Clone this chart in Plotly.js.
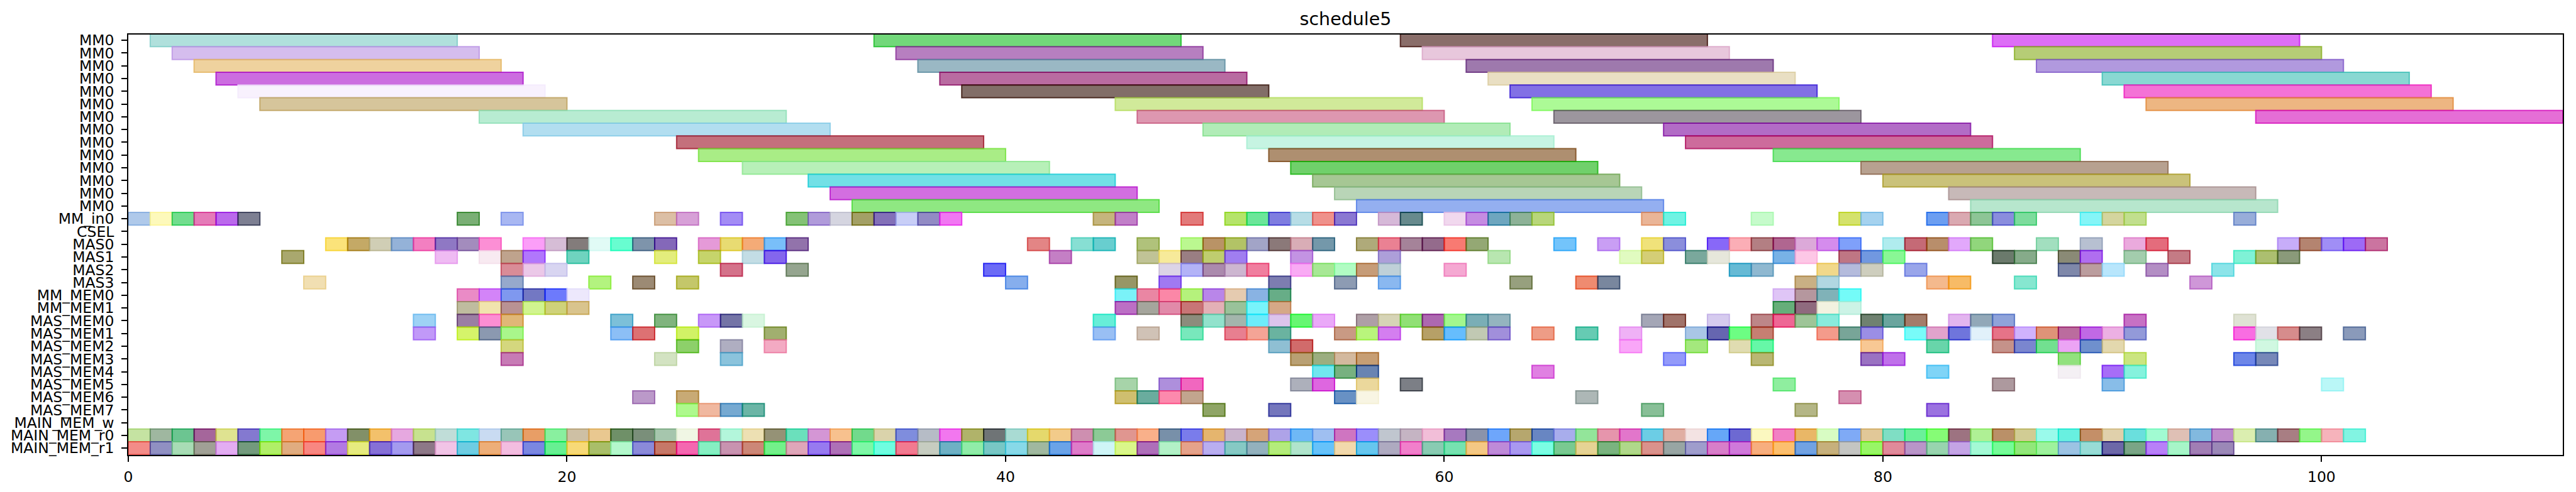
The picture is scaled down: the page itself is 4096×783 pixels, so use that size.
<!DOCTYPE html>
<html>
<head>
<meta charset="utf-8">
<script src="https://cdn.plot.ly/plotly-3.0.1.min.js"></script>
<style>html,body{margin:0;padding:0;background:#fff;}#chart{width:4096px;height:783px;}</style>
</head>
<body>
<div id="chart"></div>
<script>
// ---------------- DATA ----------------
const rowLabels = ["MM0","MM0","MM0","MM0","MM0","MM0","MM0","MM0","MM0","MM0","MM0","MM0","MM0","MM0",
  "MM_in0","CSEL","MAS0","MAS1","MAS2","MAS3","MM_MEM0","MM_MEM1",
  "MAS_MEM0","MAS_MEM1","MAS_MEM2","MAS_MEM3","MAS_MEM4","MAS_MEM5","MAS_MEM6","MAS_MEM7",
  "MAIN_MEM_w","MAIN_MEM_r0","MAIN_MEM_r1"];

const mm0Duration = 14;
const unitDuration = 1;

// MM0 rows (row 0..13): start times
const mm0Starts = [
  [1,34,58,85],[2,35,59,86],[3,36,61,87],[4,37,62,90],[5,38,63,91],[6,45,64,92],[16,46,65,97],
  [18,49,70],[25,51,71],[26,52,75],[28,53,79],[31,54,80],[32,55,83],[33,56,84]
];
const mm0Colors = [
  ["#b0e0dc","#72d87a","#8a6e6a","#dd6ef6"],
  ["#d5bdee","#b77fc0","#e8c7dc","#b6cd76"],
  ["#efd29e","#9ab8c4","#9e79ad","#b199de"],
  ["#cc6de0","#b96ba1","#e9dfc3","#89d8d2"],
  ["#f8f1fd","#826e68","#8270e5","#f472d6"],
  ["#d6c59b","#d1ea9a","#acfa96","#edb682"],
  ["#b8ecd2","#dd97b0","#9c969e","#e56ed6"],
  ["#b2def0","#b1ecb7","#b26cc6"],
  ["#c4707c","#c6f4e2","#cd6b9c"],
  ["#a9ed86","#ae8f70","#87e98f"],
  ["#b7f0b8","#70d06b","#b7a190"],
  ["#72e0e6","#a6c794","#cac27a"],
  ["#d36ee0","#b9d5b7","#c7b9b8"],
  ["#8fe882","#94aff0","#b7e6cd"]
];

const mmIn0Starts = [0,1,2,3,4,5,15,17,24,25,27,30,31,32,33,34,35,36,37,44,45,48,50,51,52,53,54,55,57,58,60,61,62,63,64,69,70,74,78,79,82,83,84,85,86,89,90,91,96];
const mmIn0Colors = ["#afc9ea","#fdf9bb","#72dd8e","#e57bb8","#bb69ec","#7d7f92","#7aaf75","#a8b7f2","#dcbfa5","#d7a0d7","#a38cf5","#84c276","#b09bda","#d5d5e0","#a3a063","#8370b8","#c8cef7","#928bc4","#f177f2","#c5b57d","#c17fc8","#e27a7a","#b5e46a","#6be699","#7f7de0","#b7dde6","#ef918b","#8a78d2","#d6b9d8","#678a8d","#f1d8ee","#c58ce2","#6ea6bf","#8db297","#b8d67a","#eab597","#6ff3e3","#c6fbcb","#d4e26c","#a5d2ef","#6c9ef1","#daa9b1","#8dc596","#8a8ddd","#7ddc9d","#85f5f7","#d4d59e","#c1df8d","#98add9"];

const cselStarts = [];
const cselColors = [];

const mas0Starts = [9,10,11,12,13,14,15,16,18,19,20,21,22,23,24,26,27,28,29,30,41,43,44,46,48,49,50,51,52,53,54,56,57,58,59,60,61,65,67,69,70,72,73,74,75,76,77,78,80,81,82,83,84,87,89,91,92,98,99,100,101,102];
const mas0Colors = ["#fbe37a","#c4a962","#d0ceb5","#94b2d8","#f37fc1","#8f78c4","#a38cbd","#fc8fd5","#fb9ef8","#d6bdd6","#837c7b","#e1fbf6","#68fdd0","#7e94ab","#8468b9","#e59ad8","#e8db72","#f4ab77","#79bff9","#9273ab","#e38585","#87dfd3","#68cecf","#b0c27b","#bbf890","#b99360","#b2c366","#a2a4c7","#8b7979","#d9adb6","#7498aa","#afaa7a","#ea8193","#a58399","#946b8c","#f87a72","#94a874","#73c4fb","#c99ef4","#f0e27a","#8b8edc","#8868f8","#fbaeb6","#b37f83","#b06590","#dca9d9","#d58ced","#7fa0fa","#b0ecee","#c56a76","#b88e6b","#e2a8fb","#91d67c","#a2dfbf","#b7c0d1","#eaaadd","#e46c7c","#c7adf9","#b48470","#a08ef6","#9d6af6","#cb74a0"];

const mas1Starts = [7,14,16,17,18,20,24,26,28,29,42,46,47,48,49,50,53,57,62,68,69,71,72,75,76,78,79,80,85,86,88,89,91,93,96,97,98];
const mas1Colors = ["#a9a86e","#efbbf3","#f8eaf1","#bfa38d","#b177fc","#6fd3bf","#e3ed7c","#c6d46b","#c3dde5","#8462ed","#c47fc5","#c0c396","#f7ea9a","#9a7e83","#bfcd6f","#a07ef0","#c393e3","#ad9fd9","#b8e6b0","#e1fbc0","#d4ce76","#7aa89c","#e6e7db","#78b2e6","#fdc7e6","#bf7684","#7198e0","#89f795","#6b7a6c","#86ab8a","#8a8a76","#b06ef0","#a3cdad","#c47b85","#7ff2d6","#acbf70","#8a9a7a"];

const mas2Starts = [17,18,19,27,30,39,47,48,49,50,51,53,54,55,56,57,60,73,74,77,78,79,81,88,89,90,92,95];
const mas2Colors = ["#d98c97","#ebc8e8","#d8d5f1","#d4728a","#95a58f","#6c6bf6","#dcd4e6","#b3b3f7","#ab8aad","#cdb6d0","#f07e9f","#f9aaf4","#a7e895","#b1fcc3","#c69c78","#bfd0d8","#f5a8d2","#65bad5","#8fb8d0","#f1d88a","#b4bbdc","#cecebe","#99a5ea","#7f88aa","#bb9d9e","#b8e6fc","#b38ec4","#8ce4e9"];

const mas3Starts = [8,17,21,23,25,40,45,47,52,55,57,63,66,67,76,77,82,83,86,94];
const mas3Colors = ["#f1dfb2","#96a9cc","#b3f37f","#9c8a74","#c4c76a","#86aeed","#979661","#a079f2","#7d7db0","#8d9bb3","#8ab8f0","#97a07e","#ef8b70","#79879e","#c9b084","#b1d7e2","#f4b98d","#f7bb66","#86e7d0","#cf97d8"];

const mmMem0Starts = [15,16,17,18,19,20,45,46,47,48,49,50,51,52,75,76,77,78];
const mmMem0Colors = ["#ea8bc6","#d384f8","#7f98ef","#7378c3","#6d7afc","#ede8fc","#7af2f8","#ea86a3","#fb87a7","#b5f27c","#b986e9","#e5cbb0","#89b3e3","#67ad87","#dfc5f6","#b5979e","#80b2b8","#74fbf8"];

const mmMem1Starts = [15,16,17,18,19,20,45,46,47,48,49,50,51,52,75,76,77,78];
const mmMem1Colors = ["#bfbc9f","#f1e4ae","#b99293","#d1f48f","#cfd27a","#d9c48d","#bc6fc5","#a5a59c","#e18aa9","#c87576","#e3b0b6","#99c29a","#78f4fb","#d5a887","#64ae7a","#8f6a7e","#f2f2e0","#ccf3e6"];

const masMem0Starts = [13,15,16,17,22,24,26,27,28,44,48,49,50,51,52,53,54,56,57,58,59,60,61,62,69,70,72,74,75,76,77,79,80,81,83,84,85,91,96];
const masMem0Colors = ["#9ed2f5","#9b7fa3","#fc8ed3","#e0b777","#7cc0d9","#80b47e","#c898f8","#7474a6","#d9f6e1","#67eed8","#8c8c7c","#92e2cc","#a3b5ac","#6decfa","#dcc4ec","#62f772","#eaa9f8","#ae9fa6","#d6d4b6","#90e075","#ad68b0","#a2f78e","#7aaeb6","#94b4bf","#a4a6b6","#a0736a","#d6cbef","#bd8688","#ee6795","#9ec598","#89ebdc","#6f8170","#6aa59e","#a47c6a","#e3b5ef","#92a8b8","#8fa3da","#c771c4","#dfe2d4"];

const masMem1Starts = [13,15,16,17,22,23,25,29,44,46,48,50,51,52,55,56,57,59,60,61,62,64,66,68,71,72,73,74,77,78,79,81,82,83,84,85,86,87,88,89,90,91,96,97,98,99,101];
const masMem1Colors = ["#c199f8","#d5f46a","#8b99b0","#a9f68b","#8cbff6","#dd7173","#d1f260","#a1af6f","#99bff4","#d0c2b6","#78e8bc","#e87f90","#f4a496","#6ab3a0","#c99a84","#b9f57c","#d47ef0","#b6a067","#66bdfd","#c1c9b3","#a18fdb","#ee9c86","#66cbb3","#efb1f6","#a9c6e6","#6465b0","#6dfd83","#c67f72","#f49b8b","#78a598","#9b8ee5","#78fbf9","#e1a3cc","#6f75dc","#e1f1fa","#e67388","#d0b2fd","#df9378","#bb6c9e","#c069e5","#ecb0e3","#939ad9","#f96de2","#e1e1e7","#d68c8c","#8b7f84","#8a9aba"];

const masMem2Starts = [17,25,27,29,52,53,68,71,73,74,79,82,85,86,87,88,89,90,97];
const masMem2Colors = ["#d4d77e","#8dd06a","#afaec1","#f3aac3","#8fbfd3","#d16b6b","#f9a6f8","#a4e87d","#e0dcb1","#66f7a7","#f8c894","#68d5aa","#c5928a","#7a86cf","#72e090","#eca4f5","#6f90cd","#e3d8ae","#d0f8e1"];

const masMem3Starts = [17,24,27,53,54,55,56,70,74,79,80,88,91,96,97];
const masMem3Colors = ["#c77bb5","#d3e3c2","#8bc3dc","#b9a073","#9bae80","#d3b99e","#c69e74","#939afa","#b9b773","#9a72c2","#bf70ea","#92e17e","#cbe580","#6d86e8","#7788b8"];

const masMem4Starts = [54,55,56,64,82,88,90,91];
const masMem4Colors = ["#71e7ef","#77b180","#6984b2","#e080e2","#7fd4f7","#f4f0f4","#a76df7","#85f2dd"];

const masMem5Starts = [45,47,48,53,54,56,58,75,85,90,100];
const masMem5Colors = ["#a7d4a9","#ae8fdc","#f167bf","#adb0bb","#de5fe0","#ebd89c","#7c7f86","#8fee9f","#ad999e","#88bde8","#baf7f7"];

const masMem6Starts = [23,25,45,46,47,48,55,56,66,78];
const masMem6Colors = ["#bb99c9","#c8aa75","#cfbf6f","#6aac9e","#fc89ad","#c2a58e","#6891c4","#f8f5e3","#adb7b6","#d58fb0"];

const masMem7Starts = [25,26,27,28,49,52,69,76,82];
const masMem7Colors = ["#aef98d","#f0b8a0","#76a9d1","#6bb5a6","#8fa561","#7476bc","#88bf97","#b4b686","#9b72e0"];

const mainMemWStarts = [];
const mainMemWColors = [];

const mainMemR0Starts = [0,1,2,3,4,5,6,7,8,9,10,11,12,13,14,15,16,17,18,19,20,21,22,23,24,25,26,27,28,29,30,31,32,33,34,35,36,37,38,39,40,41,42,43,44,45,46,47,48,49,50,51,52,53,54,55,56,57,58,59,60,61,62,63,64,65,66,67,68,69,70,71,72,73,74,75,76,77,78,79,80,81,82,83,84,85,86,87,88,89,90,91,92,93,94,95,96,97,98,99,100,101];
const mainMemR0Colors = ["#c5e3a2","#9fb7a0","#6cc591","#a5649b","#dfe391","#8479d0","#7ef6a8","#f5a474","#f89b6e","#c59cf3","#829068","#f3c16b","#e6a8e0","#c7e28f","#c0ddd8","#7fe6e2","#c9dbf2","#98c5b8","#e89e66","#89f09f","#cec0a4","#e9c890","#6f9068","#7a8f7a","#a6c6ad","#f0f6e4","#df7398","#b3f6db","#ede0b3","#959276","#6be0bc","#d496d5","#f7c18e","#72da8c","#dad3ab","#7f8ddd","#b6bcc6","#f277ef","#b0b36a","#6f7476","#a9dbd3","#e5d96c","#f2cb8a","#ce8fb0","#8cca96","#e09690","#f9b08a","#7890a9","#7a7ceb","#e5b56e","#c9b4cc","#d5a479","#aea3e8","#6fb8f6","#9fbff1","#cf75c1","#9b8efb","#c0c6cf","#c5b4c3","#f2bed8","#a779bf","#8b93aa","#6ea6fb","#b6a76e","#6886c2","#a8adec","#93e59a","#e695ac","#e276cb","#6ccde5","#e0aea3","#f3e3e3","#63a7f8","#6d69d2","#fbf8c0","#f280c4","#e9b767","#d8fcc3","#7faaf6","#e1c898","#7fdec4","#6bf09a","#86fc76","#9d7381","#aff095","#ba9068","#d1cc94","#9afaeb","#68f0e0","#c48f68","#e0d0ab","#6adfdd","#a1fbd2","#dfc0b5","#82b9df","#bf8ccb","#dbeeb0","#86b0b0","#a87e83","#94f68a","#f6b3bb","#82f4e2"];

const mainMemR1Starts = [0,1,2,3,4,5,6,7,8,9,10,11,12,13,14,15,16,17,18,19,20,21,22,23,24,25,26,27,28,29,30,31,32,33,34,35,36,37,38,39,40,41,42,43,44,45,46,47,48,49,50,51,52,53,54,55,56,57,58,59,60,61,62,63,64,65,66,67,68,69,70,71,72,73,74,75,76,77,78,79,80,81,82,83,84,85,86,87,88,89,90,91,92,93,94,95];
const mainMemR1Colors = ["#f38c88","#9090c2","#a8dcb5","#a0a095","#e3adf2","#739a7d","#b0ef68","#e0ac80","#f88781","#b27ae3","#e6eb7f","#8670d6","#a49aef","#8d7887","#f1c4e6","#6ecde2","#edae78","#f3bde0","#7b87e1","#67f092","#f7d977","#a9be69","#b4f8cc","#8b8ad9","#c67868","#f467b0","#86efc2","#c893b0","#cc8777","#73f08a","#dfa6b9","#977af0","#ae70b7","#7ef7a6","#6ffde0","#f27a90","#c6ccc0","#6eb0c4","#90eca8","#78c7c5","#87d9e8","#a0b89f","#6aa3e8","#de7cc9","#cff5f7","#daf78a","#ae6fb9","#b3f1c7","#e5a28a","#b9aef0","#86c9c4","#93b1bd","#b4ec7b","#b0e4cc","#66c2fa","#f2d9ac","#66c6ee","#aeaac0","#f17fcb","#89cbb2","#76e2b0","#f4c884","#be8ad8","#a998f0","#7bfde3","#79c991","#e6d394","#7ab37f","#b0d88a","#da928c","#98a5a3","#9f9dcc","#d87ec9","#d079da","#f7ae7e","#fcbf6e","#71a2e2","#c6b07c","#c4c5c2","#98f658","#e08a9a","#b995c8","#98d4ae","#c4a4e5","#a4f9d5","#76fb98","#92e77a","#9ef29d","#9cc3e3","#98dcd6","#6d68a8","#7aa586","#b880f8","#a7f5c8","#a17eb4","#9b88b7"];

const xTicks = [0,20,40,60,80,100];

// ---------------- BUILD ----------------
const FILL_A = 0.6, EDGE_A = 0.8;
function baseRGB(hex){
  const h = hex.replace('#','');
  const d = [0,2,4].map(i => parseInt(h.substr(i,2),16));
  return d.map(v => Math.max(0, Math.min(255, Math.round(255 - (255 - v) / FILL_A))));
}
function fillOf(hex){ const c = baseRGB(hex); return `rgba(${c[0]},${c[1]},${c[2]},${FILL_A})`; }
function edgeOf(hex){ const c = baseRGB(hex); return `rgba(${c[0]},${c[1]},${c[2]},${EDGE_A})`; }

const unitRows = [
  [mmIn0Starts, mmIn0Colors],[cselStarts, cselColors],
  [mas0Starts, mas0Colors],[mas1Starts, mas1Colors],[mas2Starts, mas2Colors],[mas3Starts, mas3Colors],
  [mmMem0Starts, mmMem0Colors],[mmMem1Starts, mmMem1Colors],
  [masMem0Starts, masMem0Colors],[masMem1Starts, masMem1Colors],[masMem2Starts, masMem2Colors],[masMem3Starts, masMem3Colors],
  [masMem4Starts, masMem4Colors],[masMem5Starts, masMem5Colors],[masMem6Starts, masMem6Colors],[masMem7Starts, masMem7Colors],
  [mainMemWStarts, mainMemWColors],[mainMemR0Starts, mainMemR0Colors],[mainMemR1Starts, mainMemR1Colors]
];

const traces = [];
function addRow(rowIdx, starts, colors, dur){
  if (!starts.length) return;
  traces.push({
    type:'bar', orientation:'h',
    y: starts.map(() => rowIdx),
    x: starts.map(() => dur),
    base: starts,
    width: 1,
    marker:{ color: colors.map(fillOf), line:{ color: colors.map(edgeOf), width: 2 } },
    hoverinfo:'skip', showlegend:false
  });
}
mm0Starts.forEach((s, i) => addRow(i, s, mm0Colors[i], mm0Duration));
unitRows.forEach((r, k) => addRow(14 + k, r[0], r[1], unitDuration));

const FONT = 'DejaVu Sans, Verdana, sans-serif';
const axisCommon = {
  showline:true, mirror:true, linecolor:'black', linewidth:2.4,
  ticks:'outside', ticklen:8.5, tickwidth:2, tickcolor:'black',
  showgrid:false, zeroline:false, automargin:false,
  tickfont:{family:FONT, size:23.5, color:'black'}
};

const layout = {
  width:4096, height:783,
  margin:{l:203.5, r:21, t:54.5, b:58.9, pad:0},
  paper_bgcolor:'white', plot_bgcolor:'white',
  barmode:'overlay',
  title:{text:'schedule5', font:{family:FONT, size:28.5, color:'black'},
         x:0.5, xref:'paper', xanchor:'center', y:0.962, yref:'container', yanchor:'middle'},
  xaxis:Object.assign({}, axisCommon, {range:[0,111], tickvals:xTicks, ticktext:xTicks.map(String), ticklabelstandoff:4}),
  yaxis:Object.assign({}, axisCommon, {range:[32.53,-0.454], tickvals:rowLabels.map((_, i) => i), ticktext:rowLabels, ticklabelstandoff:7})
};

Plotly.newPlot('chart', traces, layout, {staticPlot:true, displayModeBar:false});
</script>
</body>
</html>
